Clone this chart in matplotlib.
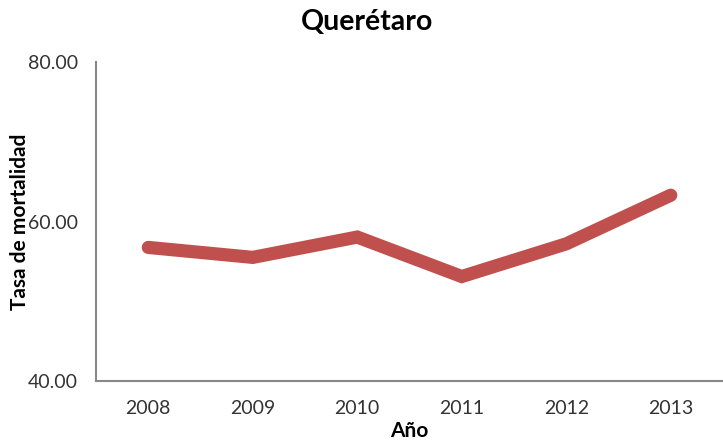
import matplotlib
matplotlib.use("Agg")
import matplotlib.pyplot as plt

years = ["2008", "2009", "2010", "2011", "2012", "2013"]
tasa = [56.75, 55.5, 58.05, 53.1, 57.2, 63.3]
y_ticks = [40, 60, 80]

plt.rcParams['font.family'] = ['Lato', 'DejaVu Sans']

fig = plt.figure(figsize=(7.23, 4.42), dpi=100)
ax = fig.add_axes([0.1328, 0.138, 0.8672, 0.7217])

x = range(len(years))
ax.plot(x, tasa, color='#C0504D', linewidth=9.5, solid_capstyle='round',
        solid_joinstyle='miter')

ax.set_xlim(-0.5, len(years) - 0.5)
ax.set_ylim(40, 80)
ax.set_xticks(list(x))
ax.set_xticklabels(years)
ax.set_yticks(y_ticks)
ax.set_yticklabels([f"{v:.2f}" for v in y_ticks])
ax.tick_params(length=0, labelsize=14, colors='#333333')
ax.tick_params(axis='y', pad=13)
ax.tick_params(axis='x', pad=14)

for side in ['top', 'right']:
    ax.spines[side].set_visible(False)
for side in ['left', 'bottom']:
    ax.spines[side].set_color('#888888')
    ax.spines[side].set_linewidth(1.5)

fig.text(0.508, 0.95, "Querétaro", fontsize=20.5, fontweight='bold',
         ha='center', va='center')
ax.set_xlabel("Año", fontsize=15, fontweight='bold')
ax.xaxis.set_label_coords(0.5, -0.125)
ax.set_ylabel("Tasa de mortalidad", fontsize=15, fontweight='bold')
ax.yaxis.set_label_coords(-0.105, 0.5)

fig.savefig("out.png", dpi=100)
